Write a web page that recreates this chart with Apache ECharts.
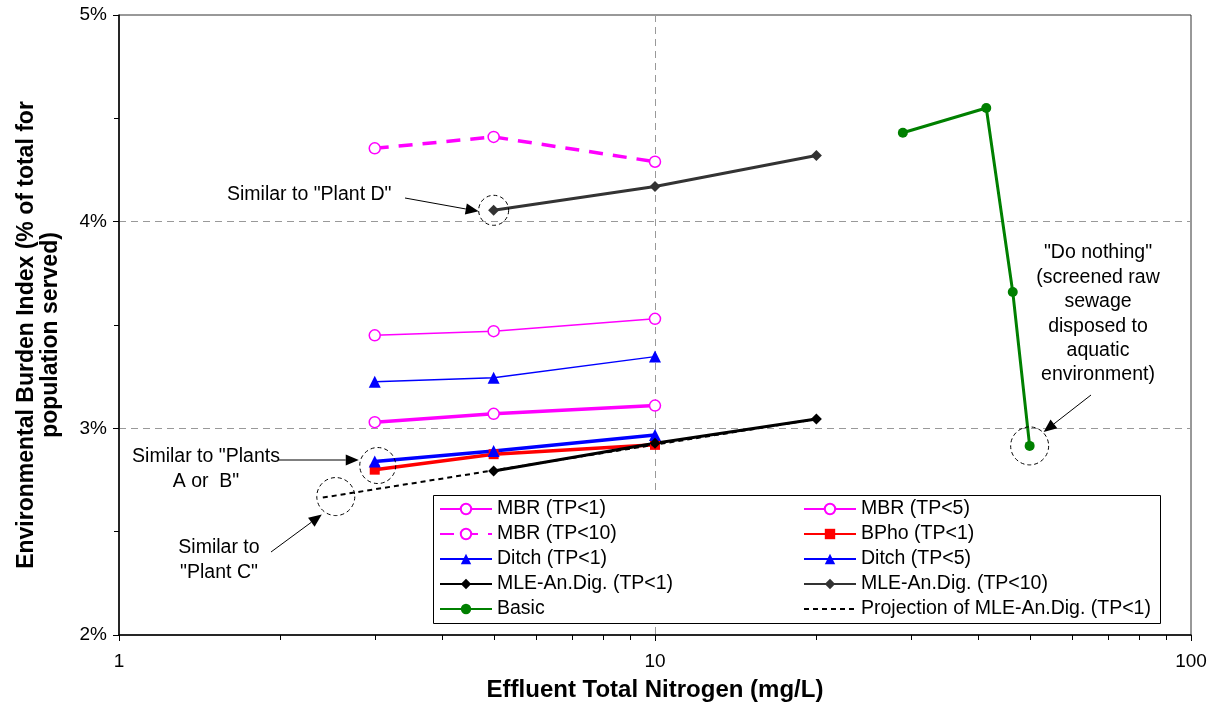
<!DOCTYPE html>
<html>
<head>
<meta charset="utf-8">
<script src="https://cdn.jsdelivr.net/npm/echarts@6/dist/echarts.min.js"></script>
<style>
html,body{margin:0;padding:0;background:#fff;}
#c{width:1215px;height:705px;}
</style>
</head>
<body>
<div id="c"></div>
<script>
// ---------- data ----------
const xLow = [3, 5, 10];
const xMLE = [5, 10, 20];
const xBasic = [29, 41.5, 46.5, 50];
const mbrTP1 = [3.03, 3.07, 3.11];
const mbrTP5 = [3.45, 3.47, 3.53];
const mbrTP10 = [4.355, 4.41, 4.29];
const bphoTP1 = [2.80, 2.875, 2.92];
const ditchTP1 = [2.84, 2.89, 2.968];
const ditchTP5 = [3.225, 3.245, 3.347];
const mleTP1 = [2.794, 2.928, 3.045];
const mleTP10 = [4.055, 4.17, 4.32];
const basic = [4.43, 4.55, 3.66, 2.915];
const projX = [2.4, 20];
const projY = [2.665, 3.045];
const yTicks = [2, 3, 4, 5];
const xMinorTicks = [2,3,4,5,6,7,8,9,20,30,40,50,60,70,80,90];

const pair = (xs, ys) => xs.map((x, i) => [x, ys[i]]);
const FONT = '"Liberation Sans", Arial, sans-serif';

const chart = echarts.init(document.getElementById('c'));

function lineSeries(name, xs, ys, color, width, symbol, size, dashed, hollow) {
  return {
    name, type: 'line', data: pair(xs, ys),
    symbol, symbolSize: size, showSymbol: true,
    lineStyle: { color, width, type: dashed ? [14, 10] : 'solid' },
    itemStyle: hollow ? { color: '#fff', borderColor: color, borderWidth: 1.5 } : { color, borderWidth: 0 },
    emphasis: { disabled: true },
    animation: false, z: 3
  };
}

const series = [
  lineSeries('MBR (TP<1)', xLow, mbrTP1, '#FF00FF', 3.5, 'circle', 11, false, true),
  lineSeries('MBR (TP<5)', xLow, mbrTP5, '#FF00FF', 1.5, 'circle', 11, false, true),
  lineSeries('MBR (TP<10)', xLow, mbrTP10, '#FF00FF', 3.5, 'circle', 11, true, true),
  lineSeries('BPho (TP<1)', xLow, bphoTP1, '#FF0000', 3.5, 'rect', 10),
  lineSeries('Ditch (TP<1)', xLow, ditchTP1, '#0000FF', 3.5, 'triangle', 12),
  lineSeries('Ditch (TP<5)', xLow, ditchTP5, '#0000FF', 1.5, 'triangle', 12),
  lineSeries('MLE-An.Dig. (TP<1)', xMLE, mleTP1, '#000000', 3, 'diamond', 11),
  lineSeries('MLE-An.Dig. (TP<10)', xMLE, mleTP10, '#333333', 3, 'diamond', 11),
  lineSeries('Basic', xBasic, basic, '#008000', 3, 'circle', 10),
  {
    name: 'Projection of MLE-An.Dig. (TP<1)', type: 'line', data: pair(projX, projY),
    symbol: 'none', itemStyle: { color: '#000', opacity: 0 },
    lineStyle: { color: '#000', width: 2, type: [5, 4] },
    emphasis: { disabled: true }, animation: false, z: 4
  }
];

const legendCommon = {
  orient: 'vertical', itemWidth: 52, itemHeight: 13, itemGap: 5, padding: 5,
  textStyle: { fontFamily: FONT, fontSize: 19.5, color: '#000', lineHeight: 20 },
  selectedMode: false, z: 5
};

chart.setOption({
  animation: false,
  backgroundColor: '#fff',
  grid: { left: 119, right: 24, top: 15, bottom: 70, containLabel: false, outerBoundsMode: 'none',
    show: true, borderColor: '#333', borderWidth: 1, backgroundColor: 'transparent' },
  xAxis: {
    type: 'log', logBase: 10, min: 1, max: 100,
    name: 'Effluent Total Nitrogen (mg/L)', nameLocation: 'middle', nameGap: 43,
    nameTextStyle: { fontFamily: FONT, fontSize: 24, fontWeight: 'bold', color: '#000' },
    axisLine: { lineStyle: { color: '#000', width: 1.5 } },
    axisTick: { show: true, length: 6, lineStyle: { color: '#000', width: 1 } },
    axisLabel: { fontFamily: FONT, fontSize: 19, color: '#000', margin: 17 },
    splitLine: { show: true, showMinLine: false, showMaxLine: false, lineStyle: { color: '#999', type: [7, 5], width: 1 } }
  },
  yAxis: {
    type: 'value', min: 2, max: 5, interval: 1,
    name: 'Environmental Burden Index (% of total for\npopulation served)',
    nameLocation: 'middle', nameGap: 57,
    nameTextStyle: { fontFamily: FONT, fontSize: 23, fontWeight: 'bold', color: '#000', lineHeight: 23.5, padding: [0, 20, 0, 0] },
    axisLine: { show: true, lineStyle: { color: '#000', width: 1.5 } },
    axisTick: { show: true, length: 6, lineStyle: { color: '#000', width: 1 } },
    minorTick: { show: true, splitNumber: 2, length: 5, lineStyle: { color: '#000', width: 1 } },
    axisLabel: { fontFamily: FONT, fontSize: 19, color: '#000', margin: 12, formatter: v => yTicks.includes(v) ? v + '%' : '' },
    splitLine: { show: true, showMinLine: false, showMaxLine: false, lineStyle: { color: '#999', type: [7, 5], width: 1 } }
  },
  legend: [
    Object.assign({}, legendCommon, { left: 434, top: 494,
      data: ['MBR (TP<1)', 'MBR (TP<10)', 'Ditch (TP<1)', 'MLE-An.Dig. (TP<1)', 'Basic'] }),
    Object.assign({}, legendCommon, { left: 798, top: 494,
      data: ['MBR (TP<5)', 'BPho (TP<1)', 'Ditch (TP<5)', 'MLE-An.Dig. (TP<10)',
        { name: 'Projection of MLE-An.Dig. (TP<1)', itemStyle: { opacity: 0 } }] })
  ],
  series
});

// ---------- annotations ----------
const px = (x, y) => chart.convertToPixel({ gridIndex: 0 }, [x, y]);
const els = [];

// legend box
els.push({ type: 'rect', shape: { x: 433.5, y: 495.5, width: 727, height: 128 },
  style: { fill: '#fff', stroke: '#000', lineWidth: 1 }, z: 3, silent: true });

// log minor ticks on x
const yBottom = px(1, 2)[1];
xMinorTicks.forEach(v => {
  const p = px(v, 2);
  els.push({ type: 'line', shape: { x1: Math.round(p[0]) + 0.5, y1: yBottom, x2: Math.round(p[0]) + 0.5, y2: yBottom + 5 },
    style: { stroke: '#000', lineWidth: 1 }, z: 5, silent: true });
});

function circle(cx, cy, r) {
  els.push({ type: 'circle', shape: { cx, cy, r }, style: { fill: 'none', stroke: '#000', lineWidth: 1, lineDash: [4, 3] }, z: 6, silent: true });
}
function arrow(x1, y1, x2, y2) {
  const ang = Math.atan2(y2 - y1, x2 - x1);
  const L = 13, W = 5.5;
  const bx = x2 - L * Math.cos(ang), by = y2 - L * Math.sin(ang);
  els.push({ type: 'line', shape: { x1, y1, x2: bx, y2: by }, style: { stroke: '#000', lineWidth: 1 }, z: 6, silent: true });
  els.push({ type: 'polygon', shape: { points: [[x2, y2],
    [bx + W * Math.sin(ang), by - W * Math.cos(ang)],
    [bx - W * Math.sin(ang), by + W * Math.cos(ang)]] }, style: { fill: '#000' }, z: 6, silent: true });
}
function text(str, x, y, align) {
  els.push({ type: 'text', x, y, style: { text: str, fontFamily: FONT, fontSize: 19.5, fill: '#000',
    align: align || 'center', verticalAlign: 'middle', lineHeight: 24.4 }, z: 6, silent: true });
}

// Plant D
const pD = px(xMLE[0], mleTP10[0]);
circle(pD[0], pD[1], 15);
arrow(405, 198, pD[0] - 15, pD[1] + 1);
text('Similar to "Plant D"', 227, 195, 'left');

// Plants A or B
const pA = px(xLow[0], (ditchTP1[0] + bphoTP1[0]) / 2);
circle(pA[0] + 3, pA[1], 18);
arrow(279, 460, pA[0] - 16, 460);
text('Similar to "Plants\nA or  B"', 206, 469);

// Plant C
const pC = px(projX[0], projY[0]);
circle(pC[0] + 13, pC[1] - 1, 19);
arrow(271, 552, pC[0] - 1, pC[1] + 17);
text('Similar to\n"Plant C"', 219, 560);

// Do nothing
const pN = px(xBasic[3], basic[3]);
circle(pN[0], pN[1], 19);
arrow(1091, 395, pN[0] + 14, pN[1] - 14);
text('"Do nothing"\n(screened raw\nsewage\ndisposed to\naquatic\nenvironment)', 1098, 314);

chart.setOption({ graphic: { elements: els } });
</script>
</body>
</html>
